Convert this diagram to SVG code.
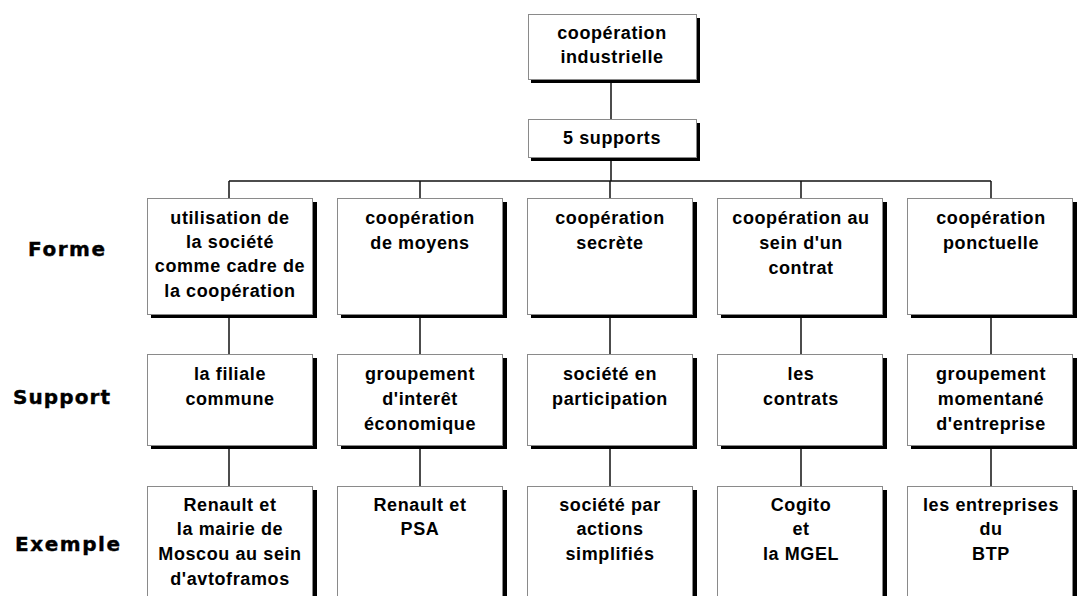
<svg xmlns="http://www.w3.org/2000/svg" width="1080" height="596" viewBox="0 0 1080 596">
<style>
.sh{fill:#000}
.bx{fill:#fff;stroke:#8a8a8a;stroke-width:1}
.t{font-family:"Liberation Sans",Arial,sans-serif;font-weight:bold;font-size:18px;letter-spacing:0.6px;text-anchor:middle;fill:#000}
.lb{font-family:"DejaVu Sans","Liberation Sans",sans-serif;font-weight:bold;font-size:20px;fill:#000;stroke:#000;stroke-width:0.4}
.c{stroke:#111;stroke-width:1.5;fill:none}
</style>
<rect width="1080" height="596" fill="#fff"/>
<g id="connectors">
<line class="c" x1="611" y1="79" x2="611" y2="119"/>
<line class="c" x1="611" y1="157" x2="611" y2="181"/>
<line class="c" x1="229" y1="181" x2="991" y2="181"/>
<line class="c" x1="229" y1="181" x2="229" y2="198"/>
<line class="c" x1="420" y1="181" x2="420" y2="198"/>
<line class="c" x1="610" y1="181" x2="610" y2="198"/>
<line class="c" x1="801" y1="181" x2="801" y2="198"/>
<line class="c" x1="991" y1="181" x2="991" y2="198"/>
<line class="c" x1="229" y1="315" x2="229" y2="354"/>
<line class="c" x1="420" y1="315" x2="420" y2="354"/>
<line class="c" x1="610" y1="315" x2="610" y2="354"/>
<line class="c" x1="801" y1="315" x2="801" y2="354"/>
<line class="c" x1="991" y1="315" x2="991" y2="354"/>
<line class="c" x1="229" y1="446" x2="229" y2="486"/>
<line class="c" x1="420" y1="446" x2="420" y2="486"/>
<line class="c" x1="610" y1="446" x2="610" y2="486"/>
<line class="c" x1="801" y1="446" x2="801" y2="486"/>
<line class="c" x1="991" y1="446" x2="991" y2="486"/>
</g>
<g id="labels">
<text class="lb" x="28" y="256" textLength="77" lengthAdjust="spacing">Forme</text>
<text class="lb" x="13" y="404" textLength="97" lengthAdjust="spacing">Support</text>
<text class="lb" x="15" y="551" textLength="105" lengthAdjust="spacing">Exemple</text>
</g>
<g id="n-root">
<rect class="sh" x="531" y="18" width="169" height="65"/>
<rect class="bx" x="528.5" y="14.5" width="168" height="65"/>
<text class="t" x="612" y="39">coopération</text>
<text class="t" x="612" y="63">industrielle</text>
</g>
<g id="n-supports">
<rect class="sh" x="531" y="123" width="169" height="38"/>
<rect class="bx" x="528.5" y="119.5" width="168" height="38"/>
<text class="t" x="612" y="144">5 supports</text>
</g>
<g id="f1">
<rect class="sh" x="151" y="202" width="166" height="116"/>
<rect class="bx" x="147.5" y="198.5" width="165" height="116"/>
<text class="t" x="230" y="224">utilisation de</text>
<text class="t" x="230" y="248">la société</text>
<text class="t" x="230" y="272">comme cadre de</text>
<text class="t" x="230" y="297">la coopération</text>
</g>
<g id="f2">
<rect class="sh" x="341" y="202" width="166" height="116"/>
<rect class="bx" x="337.5" y="198.5" width="165" height="116"/>
<text class="t" x="420" y="224">coopération</text>
<text class="t" x="420" y="249">de moyens</text>
</g>
<g id="f3">
<rect class="sh" x="531" y="202" width="166" height="116"/>
<rect class="bx" x="527.5" y="198.5" width="165" height="116"/>
<text class="t" x="610" y="224">coopération</text>
<text class="t" x="610" y="249">secrète</text>
</g>
<g id="f4">
<rect class="sh" x="721" y="202" width="166" height="116"/>
<rect class="bx" x="717.5" y="198.5" width="165" height="116"/>
<text class="t" x="801" y="224">coopération au</text>
<text class="t" x="801" y="249">sein d'un</text>
<text class="t" x="801" y="274">contrat</text>
</g>
<g id="f5">
<rect class="sh" x="911" y="202" width="166" height="116"/>
<rect class="bx" x="907.5" y="198.5" width="165" height="116"/>
<text class="t" x="991" y="224">coopération</text>
<text class="t" x="991" y="249">ponctuelle</text>
</g>
<g id="s1">
<rect class="sh" x="151" y="358" width="166" height="91"/>
<rect class="bx" x="147.5" y="354.5" width="165" height="91"/>
<text class="t" x="230" y="380">la filiale</text>
<text class="t" x="230" y="405">commune</text>
</g>
<g id="s2">
<rect class="sh" x="341" y="358" width="166" height="91"/>
<rect class="bx" x="337.5" y="354.5" width="165" height="91"/>
<text class="t" x="420" y="380">groupement</text>
<text class="t" x="420" y="405">d'interêt</text>
<text class="t" x="420" y="430">économique</text>
</g>
<g id="s3">
<rect class="sh" x="531" y="358" width="166" height="91"/>
<rect class="bx" x="527.5" y="354.5" width="165" height="91"/>
<text class="t" x="610" y="380">société en</text>
<text class="t" x="610" y="405">participation</text>
</g>
<g id="s4">
<rect class="sh" x="721" y="358" width="166" height="91"/>
<rect class="bx" x="717.5" y="354.5" width="165" height="91"/>
<text class="t" x="801" y="380">les</text>
<text class="t" x="801" y="405">contrats</text>
</g>
<g id="s5">
<rect class="sh" x="911" y="358" width="166" height="91"/>
<rect class="bx" x="907.5" y="354.5" width="165" height="91"/>
<text class="t" x="991" y="380">groupement</text>
<text class="t" x="991" y="405">momentané</text>
<text class="t" x="991" y="430">d'entreprise</text>
</g>
<g id="e1">
<rect class="sh" x="151" y="490" width="166" height="120"/>
<rect class="bx" x="147.5" y="486.5" width="165" height="120"/>
<text class="t" x="230" y="511">Renault et</text>
<text class="t" x="230" y="535">la mairie de</text>
<text class="t" x="230" y="560">Moscou au sein</text>
<text class="t" x="230" y="585">d'avtoframos</text>
</g>
<g id="e2">
<rect class="sh" x="341" y="490" width="166" height="120"/>
<rect class="bx" x="337.5" y="486.5" width="165" height="120"/>
<text class="t" x="420" y="511">Renault et</text>
<text class="t" x="420" y="535">PSA</text>
</g>
<g id="e3">
<rect class="sh" x="531" y="490" width="166" height="120"/>
<rect class="bx" x="527.5" y="486.5" width="165" height="120"/>
<text class="t" x="610" y="511">société par</text>
<text class="t" x="610" y="535">actions</text>
<text class="t" x="610" y="560">simplifiés</text>
</g>
<g id="e4">
<rect class="sh" x="721" y="490" width="166" height="120"/>
<rect class="bx" x="717.5" y="486.5" width="165" height="120"/>
<text class="t" x="801" y="511">Cogito</text>
<text class="t" x="801" y="535">et</text>
<text class="t" x="801" y="560">la MGEL</text>
</g>
<g id="e5">
<rect class="sh" x="911" y="490" width="166" height="120"/>
<rect class="bx" x="907.5" y="486.5" width="165" height="120"/>
<text class="t" x="991" y="511">les entreprises</text>
<text class="t" x="991" y="535">du</text>
<text class="t" x="991" y="560">BTP</text>
</g>
</svg>
